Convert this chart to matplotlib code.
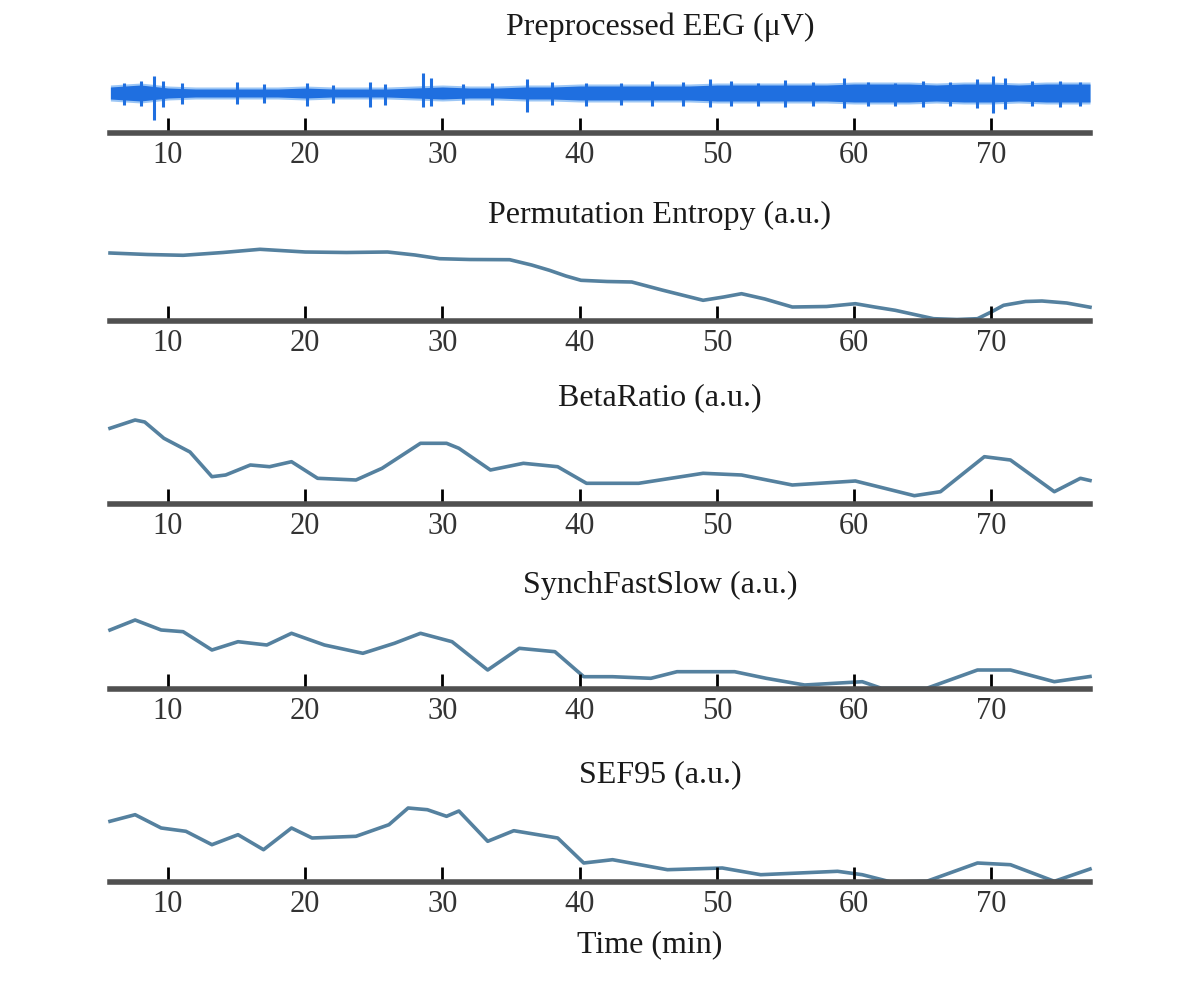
import matplotlib
matplotlib.use('Agg')
import matplotlib.pyplot as plt

# x ticks shared by every panel
ticks = [10, 20, 30, 40, 50, 60, 70]
x_min, x_max = 5.77, 77.2

# EEG band (envelope, a.u. above axis)
eeg_t  = [5.8, 8, 10, 12, 14, 16, 18, 20, 22, 24, 26, 28, 30, 32, 34, 36, 38, 40,
          42, 44, 46, 48, 50, 52, 54, 56, 58, 60, 62, 64, 66, 68, 70, 72, 74, 77.2]
eeg_hi = [46, 48, 45, 44, 44, 44, 44, 45, 44, 44, 44, 45, 46, 45, 45, 46, 46, 47,
          47, 47, 47, 47, 48, 48, 48, 48, 48, 49, 49, 49, 48, 49, 49, 48, 49, 49]
eeg_lo = [34, 32, 35, 36, 36, 36, 36, 35, 36, 36, 36, 35, 34, 35, 35, 34, 34, 33,
          33, 33, 33, 33, 32, 32, 32, 32, 32, 31, 31, 31, 32, 31, 31, 32, 31, 31]
# bursts / spikes
spk_t  = [6.8, 8.0, 9.0, 9.6, 11.0, 15.0, 17.0, 20.1, 22.0, 24.7, 25.8, 28.6, 29.2,
          31.5, 33.6, 36.2, 38.0, 40.5, 43.0, 45.3, 47.5, 49.5, 51.0, 53.0, 55.0,
          57.0, 59.3, 61.0, 63.0, 65.0, 67.0, 69.0, 70.1, 71.0, 73.0, 75.0, 76.5]
spk_hi = [50, 52, 57, 52, 50, 51, 49, 50, 48, 51, 49, 60, 55, 49, 50, 54, 51, 50,
          50, 52, 51, 54, 52, 50, 53, 51, 55, 51, 50, 52, 51, 54, 57, 55, 52, 52, 51]
spk_lo = [28, 27, 13, 26, 29, 29, 30, 27, 30, 26, 28, 26, 27, 29, 28, 21, 28, 27,
          28, 27, 27, 26, 27, 27, 26, 27, 25, 27, 27, 26, 27, 25, 20, 24, 27, 26, 27]

# feature curves (heights above axis, a.u.)
pe_t = [5.77, 8.5, 11.1, 14.0, 16.7, 20.0, 23.0, 26.0, 28.0, 29.8, 32.0, 34.9, 36.5,
        37.8, 39.0, 40.1, 42.0, 43.8, 46.0, 49.0, 50.5, 51.8, 53.5, 55.5, 58.0, 60.1,
        61.5, 63.0, 65.8, 67.5, 69.0, 70.0, 70.9, 72.5, 73.7, 75.5, 77.2]
pe_v = [68, 66.5, 65.7, 68.5, 71.7, 69, 68.5, 69, 66, 62.3, 61.5, 61.3, 56,
        50.7, 45, 40.7, 39.5, 39, 31, 20.7, 24, 27.3, 22, 14, 14.5, 17.3,
        14, 10.7, 2.3, 1.5, 2.3, 9, 15.7, 19.5, 20, 18, 13.8]

beta_t = [5.77, 7.6, 8.3, 9.7, 11.6, 13.2, 14.2, 16.0, 17.4, 19.0, 20.9, 23.7, 25.6,
          28.4, 30.3, 31.2, 33.5, 35.9, 38.4, 40.5, 44.3, 49.0, 51.8, 55.5, 60.1,
          64.4, 66.3, 69.5, 71.4, 74.6, 76.5, 77.2]
beta_v = [75.7, 84, 82, 65.7, 52, 27.3, 29, 39, 37.3, 42.3, 25.7, 24, 35.7,
          60.7, 60.7, 55.7, 34, 40.7, 37.3, 20.7, 20.7, 30.7, 29, 19, 23,
          8.3, 12.3, 47.3, 44, 12.3, 25.7, 23.5]

sfs_t = [5.77, 7.6, 9.5, 11.1, 13.2, 15.1, 17.2, 19.0, 21.4, 24.2, 26.5, 28.4, 30.7,
         33.3, 35.6, 38.2, 40.3, 42.4, 45.2, 47.1, 51.3, 53.6, 56.4, 60.6, 62.0,
         65.3, 69.0, 71.4, 74.6, 77.2]
sfs_v = [59, 69, 59, 57.3, 39, 47.3, 44, 55.7, 44, 35.7, 45.7, 55.7, 47.3,
         19, 40.7, 37.3, 12.3, 12.3, 10.7, 17.3, 17.3, 10.7, 4, 7.3, 0.7,
         0.7, 19, 19, 7.3, 12.5]

sef_t = [5.77, 7.6, 9.5, 11.3, 13.2, 15.1, 16.96, 19.0, 20.5, 23.7, 26.1, 27.5, 28.9,
         30.3, 31.2, 33.3, 35.2, 38.4, 40.3, 42.4, 46.4, 50.4, 53.2, 58.8, 60.6,
         62.7, 65.3, 69.0, 71.4, 74.6, 77.2]
sef_v = [60.7, 67.3, 54, 50.7, 37.3, 47.3, 32.3, 54, 44, 45.7, 57.3, 74, 72.3,
         65.7, 71, 40.7, 51.3, 44, 19, 22.3, 12.3, 14, 7.3, 10.7, 7.3,
         0, 0.7, 19, 17.3, 0.7, 13]

titles = ['Preprocessed EEG (\u03bcV)', 'Permutation Entropy (a.u.)', 'BetaRatio (a.u.)',
          'SynchFastSlow (a.u.)', 'SEF95 (a.u.)']
title_y = [27, 215, 398, 585, 775]
spine_y = [133, 321, 504, 689, 882]

W, H = 1200, 981
fig = plt.figure(figsize=(W / 100, H / 100), dpi=100)
plt.rcParams['font.family'] = ['Liberation Serif', 'DejaVu Serif']

curve_col = '#55819f'
eeg_col = '#1f6fe0'
ph = 85

axes = []
for i in range(5):
    ax = fig.add_axes([110 / W, 1 - spine_y[i] / H, 980 / W, ph / H])
    ax.set_xlim(x_min, x_max)
    ax.set_ylim(0, ph)
    for s in ['top', 'left', 'right']:
        ax.spines[s].set_visible(False)
    ax.spines['bottom'].set_color('#505050')
    ax.spines['bottom'].set_linewidth(4)
    ax.set_yticks([])
    ax.set_xticks(ticks)
    ax.set_xticklabels([str(t) for t in ticks])
    ax.tick_params(axis='x', direction='in', length=11, width=2, color='black',
                   labelsize=22, labelcolor='#333333', pad=6)
    ax.patch.set_alpha(0)
    fig.text(660 / W, 1 - title_y[i] / H, titles[i], ha='center', va='center',
             fontsize=23, color='#1a1a1a')
    axes.append(ax)

ax = axes[0]
ax.fill_between(eeg_t, [v - 2 for v in eeg_lo], [v + 2 for v in eeg_hi],
                color='#9cc6f5', linewidth=0)
ax.fill_between(eeg_t, eeg_lo, eeg_hi, color=eeg_col, linewidth=0)
ax.vlines(spk_t, spk_lo, spk_hi, color=eeg_col, linewidth=2.2)

for ax, t, v in zip(axes[1:], [pe_t, beta_t, sfs_t, sef_t], [pe_v, beta_v, sfs_v, sef_v]):
    ax.plot(t, v, color=curve_col, linewidth=2.6, clip_on=False, zorder=1,
            solid_joinstyle='round')

fig.text(650 / W, 1 - 945 / H, 'Time (min)', ha='center', va='center',
         fontsize=23, color='#1a1a1a')

plt.savefig('out.png', dpi=100, facecolor='w')
